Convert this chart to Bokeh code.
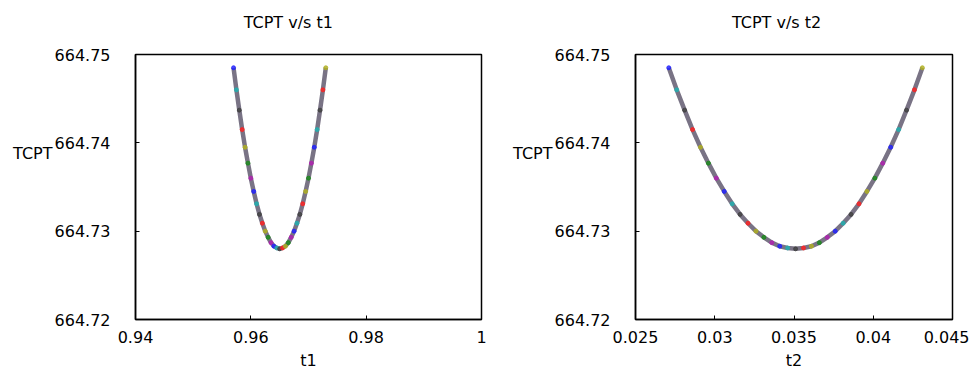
from bokeh.plotting import figure
from bokeh.layouts import row
from bokeh.models import (Range1d, FixedTicker, CustomJSTickFormatter, LinearAxis,
                          ColumnDataSource)
from bokeh.embed import file_html
from bokeh.resources import INLINE

# ---- data ----
t1 = [0.9570, 0.9575, 0.9580, 0.9585, 0.9590, 0.9595, 0.9600, 0.9605, 0.9610, 0.9615,
      0.9620, 0.9625, 0.9630, 0.9635, 0.9640, 0.9645, 0.9650, 0.9655, 0.9660, 0.9665,
      0.9670, 0.9675, 0.9680, 0.9685, 0.9690, 0.9695, 0.9700, 0.9705, 0.9710, 0.9715,
      0.9720, 0.9725, 0.9730]
tcpt1 = [664.7485, 664.7460, 664.7437, 664.7415, 664.7395, 664.7377, 664.7360, 664.7345,
         664.7331, 664.7319, 664.7309, 664.7300, 664.7293, 664.7287, 664.7283, 664.7281,
         664.7280, 664.7281, 664.7283, 664.7287, 664.7293, 664.7300, 664.7309, 664.7319,
         664.7331, 664.7345, 664.7360, 664.7377, 664.7395, 664.7415, 664.7437, 664.7460,
         664.7485]
t2 = [0.0271, 0.0276, 0.0281, 0.0286, 0.0291, 0.0296, 0.0301, 0.0306, 0.0311, 0.0316,
      0.0321, 0.0326, 0.0331, 0.0336, 0.0341, 0.0346, 0.0351, 0.0356, 0.0361, 0.0366,
      0.0371, 0.0376, 0.0381, 0.0386, 0.0391, 0.0396, 0.0401, 0.0406, 0.0411, 0.0416,
      0.0421, 0.0426, 0.0431]
tcpt2 = [664.7485, 664.7460, 664.7437, 664.7415, 664.7395, 664.7377, 664.7360, 664.7345,
         664.7331, 664.7319, 664.7309, 664.7300, 664.7293, 664.7287, 664.7283, 664.7281,
         664.7280, 664.7281, 664.7283, 664.7287, 664.7293, 664.7300, 664.7309, 664.7319,
         664.7331, 664.7345, 664.7360, 664.7377, 664.7395, 664.7415, 664.7437, 664.7460,
         664.7485]

x1_ticks = [0.94, 0.96, 0.98, 1.0]
x2_ticks = [0.025, 0.03, 0.035, 0.04, 0.045]
y_ticks = [664.72, 664.73, 664.74, 664.75]

titles = ["TCPT v/s t1", "TCPT v/s t2"]
title_at = [0.9665, 0.0339]   # horizontal anchor of each title (title sits left of centre)
xlabels = ["t1", "t2"]
ylabel = "TCPT"
ylabel_at = 664.7388          # vertical anchor of the horizontal y label

cycle = ["#2020ff", "#1a8a1a", "#ff2020", "#20b0b0", "#b020b0", "#b0b020", "#404040"]

FONT = "DejaVu Sans"
FS = "16px"
fmt = CustomJSTickFormatter(code="return String(Math.round(tick*1e6)/1e6);")


def single_label_axis(at, text, standoff):
    return LinearAxis(ticker=FixedTicker(ticks=[at]),
                      major_label_overrides={at: text},
                      axis_line_color=None, major_tick_line_color=None,
                      minor_tick_line_color=None, major_tick_in=0, major_tick_out=0,
                      major_label_standoff=standoff, major_label_text_font=FONT,
                      major_label_text_font_size=FS, major_label_text_color="black")


def make(xs, ys, xr, xticks, title, tat, xlabel, width, bl, br):
    p = figure(width=width, height=375, output_backend="svg", toolbar_location=None,
               x_range=Range1d(*xr), y_range=Range1d(664.72, 664.75),
               min_border_left=bl, min_border_right=br, min_border_top=54,
               min_border_bottom=56)
    p.xgrid.visible = False
    p.ygrid.visible = False
    p.outline_line_color = "black"
    p.outline_line_width = 1.5
    p.background_fill_color = "white"
    p.border_fill_color = "white"

    for ax, ticks in ((p.xaxis[0], xticks), (p.yaxis[0], y_ticks)):
        ax.ticker = FixedTicker(ticks=ticks)
        ax.formatter = fmt
        ax.minor_tick_line_color = None
        ax.major_tick_in = 4
        ax.major_tick_out = 0
        ax.major_tick_line_color = "black"
        ax.axis_line_color = "black"
        ax.axis_line_width = 1.5
        ax.major_label_text_font = FONT
        ax.major_label_text_font_size = FS
        ax.major_label_text_color = "black"
    p.xaxis.major_label_standoff = 11
    p.yaxis.major_label_standoff = 25
    p.xaxis.axis_label = xlabel
    p.xaxis.axis_label_text_font = FONT
    p.xaxis.axis_label_text_font_size = FS
    p.xaxis.axis_label_text_font_style = "normal"
    p.xaxis.axis_label_text_color = "black"
    p.xaxis.axis_label_standoff = 5

    # title above the frame and horizontal "TCPT" label at the left
    p.add_layout(single_label_axis(tat, title, 23), "above")
    p.add_layout(single_label_axis(ylabel_at, ylabel, -1), "left")

    # multicoloured dotted curve
    p.line(xs, ys, line_color="#6a6478", line_width=4.5, line_alpha=0.9)
    src = ColumnDataSource(dict(x=xs, y=ys,
                                c=[cycle[(i * 3) % len(cycle)] for i in range(len(xs))]))
    p.scatter("x", "y", source=src, size=4, fill_color="c", line_color="c", alpha=0.8)
    return p


p1 = make(t1, tcpt1, (0.94, 1.0), x1_ticks, titles[0], title_at[0], xlabels[0],
          489, 135, 8)
p2 = make(t2, tcpt2, (0.025, 0.045), x2_ticks, titles[1], title_at[1], xlabels[1],
          480, 146, 17)

layout = row(p1, p2)
open("out.html", "w").write(file_html(layout, INLINE))
